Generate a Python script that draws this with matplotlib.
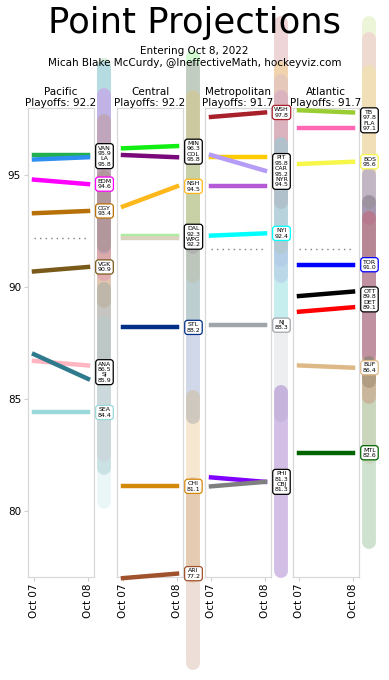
import matplotlib
matplotlib.use("Agg")
import matplotlib.pyplot as plt
from matplotlib import font_manager

# ---- data ----
dates = ["Oct 07", "Oct 08"]
divisions = ["Pacific", "Central", "Metropolitan", "Atlantic"]
playoff_cut = [92.2, 92.2, 91.7, 91.7]

pacific_teams = ["VAN", "LA", "EDM", "CGY", "VGK", "ANA", "SJ", "SEA"]
pacific_oct07 = [95.9, 95.7, 94.8, 93.3, 90.7, 86.7, 87.0, 84.4]
pacific_oct08 = [95.9, 95.8, 94.6, 93.4, 90.9, 86.5, 85.9, 84.4]

central_teams = ["MIN", "COL", "NSH", "DAL", "WPG", "STL", "CHI", "ARI"]
central_oct07 = [96.2, 95.9, 93.6, 92.3, 92.2, 88.2, 81.1, 77.0]
central_oct08 = [96.3, 95.8, 94.5, 92.3, 92.2, 88.2, 81.1, 77.2]

metro_teams = ["WSH", "PIT", "CAR", "NYR", "NYI", "NJ", "PHI", "CBJ"]
metro_oct07 = [97.6, 95.8, 95.9, 94.5, 92.3, 88.3, 81.5, 81.1]
metro_oct08 = [97.8, 95.8, 95.2, 94.5, 92.4, 88.3, 81.3, 81.3]

atlantic_teams = ["TB", "FLA", "BOS", "TOR", "OTT", "DET", "BUF", "MTL"]
atlantic_oct07 = [97.9, 97.1, 95.5, 91.0, 89.6, 88.9, 86.5, 82.6]
atlantic_oct08 = [97.8, 97.1, 95.6, 91.0, 89.8, 89.1, 86.4, 82.6]

team_colors = {
    "VAN": "#20b050", "LA": "#2d8ff0", "EDM": "#ff00ff", "CGY": "#b87008",
    "VGK": "#7a5a1a", "ANA": "#ffb6c1", "SJ": "#2f7a8c", "SEA": "#99d9d9",
    "MIN": "#11ee11", "COL": "#7a0a7a", "NSH": "#ffb81c", "DAL": "#a8f0a0",
    "WPG": "#d9d2bd", "STL": "#002f87", "CHI": "#d4880a", "ARI": "#a0522d",
    "WSH": "#a8202a", "PIT": "#ffcc00", "CAR": "#b59cf7", "NYR": "#b45ad6",
    "NYI": "#00ffff", "NJ": "#a0a5aa", "PHI": "#8000ff", "CBJ": "#7f7f7f",
    "TB": "#9acd32", "FLA": "#ff69b4", "BOS": "#f7f74a", "TOR": "#0000ff",
    "OTT": "#000000", "DET": "#ff0000", "BUF": "#deb887", "MTL": "#006400",
}

div_data = [
    (pacific_teams, pacific_oct07, pacific_oct08),
    (central_teams, central_oct07, central_oct08),
    (metro_teams, metro_oct07, metro_oct08),
    (atlantic_teams, atlantic_oct07, atlantic_oct08),
]

# narrow font for the little team labels, if there is one
installed = {f.name for f in font_manager.fontManager.ttflist}
if "Liberation Sans Narrow" in installed:
    label_font = dict(family="Liberation Sans Narrow", fontsize=5.4)
elif "DejaVu Sans Condensed" in installed:
    label_font = dict(family="DejaVu Sans", fontstretch="condensed", fontsize=5.0)
else:
    label_font = dict(family="DejaVu Sans", fontsize=4.5)

W, H = 389, 680
fig = plt.figure(figsize=(W / 100, H / 100), dpi=100)

ax_left_px = [28, 117, 205, 293]
ax_w_px = 66
ax_top_px, ax_bot_px = 108, 577
bar_x = 1.305
spread = 4.0


def group_labels(teams, vals, gap=1.0):
    order = sorted(range(len(teams)), key=lambda i: -vals[i])
    groups = []
    for i in order:
        if groups and vals[groups[-1][-1]] - vals[i] < gap:
            groups[-1].append(i)
        else:
            groups.append([i])
    return groups


for k, (name, cut, (teams, v7, v8)) in enumerate(zip(divisions, playoff_cut, div_data)):
    ax = fig.add_axes([ax_left_px[k] / W, 1 - ax_bot_px / H,
                       ax_w_px / W, (ax_bot_px - ax_top_px) / H])
    ax.set_xlim(-0.111, 1.111)
    ax.set_ylim(77.05, 98.0)

    # range bars beside the panel
    for t, v in zip(teams, v8):
        ax.plot([bar_x, bar_x], [v - spread, v + spread], color=team_colors[t],
                alpha=0.19, lw=10, solid_capstyle="round", clip_on=False, zorder=1)

    ax.plot([0, 1], [cut, cut], color="#808080", lw=1, ls=(0, (1, 3)), zorder=2)

    for t, a, b in zip(teams, v7, v8):
        ax.plot([0, 1], [a, b], color=team_colors[t], lw=3.2,
                solid_capstyle="projecting", clip_on=False, zorder=3)

    for g in group_labels(teams, v8):
        txt = "\n".join(f"{teams[i]}\n{v8[i]:.1f}" for i in g)
        y = sum(v8[i] for i in g) / len(g)
        ec = team_colors[teams[g[0]]] if len(g) == 1 else "black"
        ax.text(bar_x, y, txt, ha="center", va="center", linespacing=1.1,
                clip_on=False, zorder=5, **label_font,
                bbox=dict(boxstyle="round,pad=0.3,rounding_size=0.45",
                          fc="white", ec=ec, lw=0.9))

    ax.text(0.5, 1.0, f"{name}\nPlayoffs: {cut}", transform=ax.transAxes,
            ha="center", va="bottom", fontsize=7.5, linespacing=1.1)

    ax.set_xticks([0, 1])
    ax.set_xticklabels(dates, rotation=90, fontsize=7.5)
    ax.set_yticks([80, 85, 90, 95])
    for s in ax.spines.values():
        s.set_color("#d8d8d8")
        s.set_linewidth(0.9)
    ax.tick_params(axis="x", length=3, color="#d0d0d0", pad=2)
    if k == 0:
        ax.tick_params(axis="y", labelsize=7.5, length=3, color="#d0d0d0", pad=2)
    else:
        ax.tick_params(axis="y", left=False, labelleft=False)

fig.text(0.5, 1 - 33 / H, "Point Projections", ha="center", va="baseline", fontsize=25.5)
fig.text(0.5, 1 - 54 / H, "Entering Oct 8, 2022", ha="center", va="baseline", fontsize=7.5)
fig.text(0.5, 1 - 66 / H, "Micah Blake McCurdy, @IneffectiveMath, hockeyviz.com",
         ha="center", va="baseline", fontsize=7.5)

fig.savefig("out.png", dpi=100)
